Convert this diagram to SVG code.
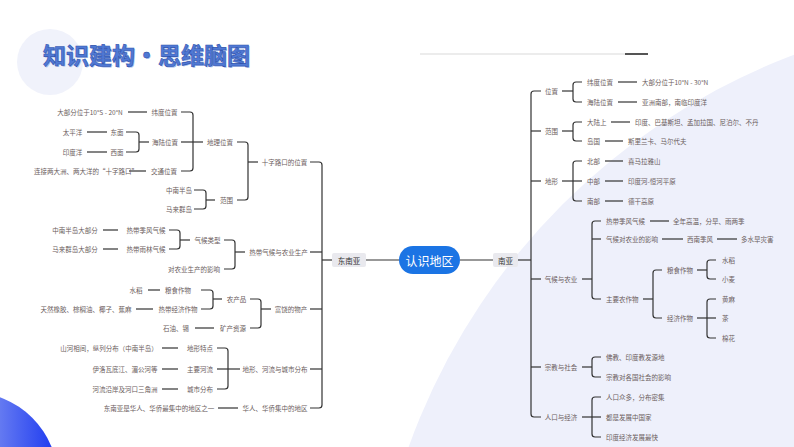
<svg xmlns="http://www.w3.org/2000/svg" width="794" height="447" viewBox="0 0 794 447">
<defs>
<linearGradient id="blueG" x1="0" y1="0" x2="1" y2="0">
<stop offset="0" stop-color="#d4daf7"/>
<stop offset="0.5" stop-color="#8a9cf2"/>
<stop offset="1" stop-color="#1a37f0"/>
</linearGradient>
<style>
.t{font-family:"Noto Sans CJK SC","Noto Sans",sans-serif;font-size:6.5px;fill:#6b5d5d;dominant-baseline:central}
.m{text-anchor:middle}
.ln{stroke:#333;stroke-width:1.2;fill:none}
.box{fill:#e9e9ee}
.bt{font-family:"Noto Sans CJK SC","Noto Sans",sans-serif;font-size:7.5px;fill:#333;dominant-baseline:central;text-anchor:middle}
</style>
</defs>
<rect width="794" height="447" fill="#ffffff"/>
<circle cx="1027" cy="669" r="657" fill="#eef0fb"/>
<circle cx="50" cy="62" r="33" fill="#f0f2fb"/>
<circle cx="-30" cy="480" r="88" fill="url(#blueG)"/>
<line x1="420" y1="54" x2="625" y2="54" stroke="#e6e6e6" stroke-width="1.5"/>
<line x1="625" y1="54" x2="648" y2="54" stroke="#555" stroke-width="2"/>
<g id="title">
<text x="44" y="65" font-family="'Noto Sans CJK SC',sans-serif" font-size="23" font-weight="bold" fill="#a9bcea">知识建构・思维脑图</text>
<text x="43" y="64" font-family="'Noto Sans CJK SC',sans-serif" font-size="23" font-weight="bold" fill="#5079d4" stroke="#2f52ad" stroke-width="0.6">知识建构・思维脑图</text>
</g>

<g id="connectors">
<!-- center -->
<line class="ln" x1="366" y1="260" x2="399" y2="260"/>
<line class="ln" x1="460" y1="260" x2="493" y2="260"/>
<line class="ln" x1="322" y1="260" x2="332" y2="260"/>
<line class="ln" x1="518" y1="260" x2="531" y2="260"/>
<!-- left main bracket -->
<path class="ln" d="M310,162 H319 Q322,162 322,165 V405 Q322,408 319,408 H310"/>
<line class="ln" x1="310" y1="252" x2="322" y2="252"/>
<line class="ln" x1="310" y1="309" x2="322" y2="309"/>
<line class="ln" x1="310" y1="369" x2="322" y2="369"/>
<!-- 十字路口 -->
<path class="ln" d="M237,142 H245 Q248,142 248,145 V197 Q248,200 245,200 H237"/>
<line class="ln" x1="248" y1="162" x2="258" y2="162"/>
<path class="ln" d="M181,112 H190 Q193,112 193,115 V168 Q193,171 190,171 H181"/>
<line class="ln" x1="181" y1="142" x2="203" y2="142"/>
<line class="ln" x1="128" y1="112" x2="147" y2="112"/>
<line class="ln" x1="129" y1="171" x2="146" y2="171"/>
<path class="ln" d="M126,132 H136 Q139,132 139,135 V149 Q139,152 136,152 H126"/>
<line class="ln" x1="139" y1="142" x2="149" y2="142"/>
<line class="ln" x1="87" y1="132" x2="107" y2="132"/>
<line class="ln" x1="87" y1="152" x2="107" y2="152"/>
<path class="ln" d="M194,190 H203 Q206,190 206,193 V206 Q206,209 203,209 H194"/>
<line class="ln" x1="206" y1="200" x2="215" y2="200"/>
<!-- climate -->
<line class="ln" x1="103" y1="230" x2="118" y2="230"/>
<line class="ln" x1="103" y1="249" x2="118" y2="249"/>
<path class="ln" d="M169,230 H177 Q180,230 180,233 V246 Q180,249 177,249 H169"/>
<line class="ln" x1="180" y1="240" x2="190" y2="240"/>
<path class="ln" d="M224,240 H232 Q235,240 235,243 V266 Q235,269 232,269 H224"/>
<line class="ln" x1="235" y1="252" x2="245" y2="252"/>
<!-- products -->
<line class="ln" x1="148" y1="290" x2="160" y2="290"/>
<line class="ln" x1="136" y1="309" x2="153" y2="309"/>
<path class="ln" d="M201,290 H210 Q213,290 213,293 V306 Q213,309 210,309 H201"/>
<line class="ln" x1="213" y1="299" x2="222" y2="299"/>
<line class="ln" x1="195" y1="328" x2="214" y2="328"/>
<path class="ln" d="M250,299 H258 Q261,299 261,302 V325 Q261,328 258,328 H250"/>
<line class="ln" x1="261" y1="309" x2="271" y2="309"/>
<!-- terrain -->
<line class="ln" x1="162" y1="348" x2="178" y2="348"/>
<line class="ln" x1="162" y1="369" x2="178" y2="369"/>
<line class="ln" x1="162" y1="389" x2="178" y2="389"/>
<path class="ln" d="M217,348 H225 Q228,348 228,351 V386 Q228,389 225,389 H217"/>
<line class="ln" x1="217" y1="369" x2="240" y2="369"/>
<line class="ln" x1="218" y1="408" x2="238" y2="408"/>
<!-- right main bracket -->
<path class="ln" d="M541,91 H534 Q531,91 531,94 V414 Q531,417 534,417 H541"/>
<line class="ln" x1="531" y1="131" x2="541" y2="131"/>
<line class="ln" x1="531" y1="181" x2="541" y2="181"/>
<line class="ln" x1="531" y1="279" x2="541" y2="279"/>
<line class="ln" x1="531" y1="367" x2="541" y2="367"/>
<!-- 位置 -->
<line class="ln" x1="562" y1="91" x2="573" y2="91"/>
<path class="ln" d="M582,82 H576 Q573,82 573,85 V99 Q573,102 576,102 H582"/>
<line class="ln" x1="618" y1="82" x2="637" y2="82"/>
<line class="ln" x1="618" y1="102" x2="637" y2="102"/>
<!-- 范围 -->
<line class="ln" x1="562" y1="131" x2="573" y2="131"/>
<path class="ln" d="M582,122 H576 Q573,122 573,125 V138 Q573,141 576,141 H582"/>
<line class="ln" x1="611" y1="122" x2="630" y2="122"/>
<line class="ln" x1="605" y1="141" x2="623" y2="141"/>
<!-- 地形 -->
<line class="ln" x1="562" y1="181" x2="582" y2="181"/>
<path class="ln" d="M582,161 H576 Q573,161 573,164 V198 Q573,201 576,201 H582"/>
<line class="ln" x1="605" y1="161" x2="623" y2="161"/>
<line class="ln" x1="605" y1="181" x2="623" y2="181"/>
<line class="ln" x1="605" y1="201" x2="623" y2="201"/>
<!-- 气候与农业 -->
<line class="ln" x1="582" y1="279" x2="592" y2="279"/>
<path class="ln" d="M601,221 H595 Q592,221 592,224 V296 Q592,299 595,299 H601"/>
<line class="ln" x1="592" y1="239" x2="601" y2="239"/>
<line class="ln" x1="650" y1="221" x2="669" y2="221"/>
<line class="ln" x1="662" y1="239" x2="683" y2="239"/>
<line class="ln" x1="717" y1="239" x2="737" y2="239"/>
<line class="ln" x1="643" y1="299" x2="653" y2="299"/>
<path class="ln" d="M662,270 H656 Q653,270 653,273 V315 Q653,318 656,318 H662"/>
<line class="ln" x1="697" y1="270" x2="707" y2="270"/>
<path class="ln" d="M716,260 H710 Q707,260 707,263 V276 Q707,279 710,279 H716"/>
<line class="ln" x1="697" y1="318" x2="716" y2="318"/>
<path class="ln" d="M716,299 H710 Q707,299 707,302 V335 Q707,338 710,338 H716"/>
<!-- 宗教与社会 -->
<line class="ln" x1="582" y1="367" x2="592" y2="367"/>
<path class="ln" d="M601,357 H595 Q592,357 592,360 V374 Q592,377 595,377 H601"/>
<!-- 人口与经济 -->
<line class="ln" x1="582" y1="417" x2="601" y2="417"/>
<path class="ln" d="M601,397 H595 Q592,397 592,400 V434 Q592,437 595,437 H601"/>
</g>

<g id="center"><rect x="399" y="246" width="61" height="28" rx="14" fill="#1b74e4"/><text x="429.5" y="260" font-family="'Noto Sans CJK SC',sans-serif" font-size="12" fill="#fff" text-anchor="middle" dominant-baseline="central">认识地区</text></g>
<g id="dny"><rect class="box" x="332" y="253" width="34" height="14" rx="2"/><text class="bt" x="349" y="260">东南亚</text></g>
<g id="ny"><rect class="box" x="493" y="253" width="25" height="14" rx="2"/><text class="bt" x="505.5" y="260">南亚</text></g>

<g id="left-nodes">
<g id="l-szlk"><text class="t m" x="284.5" y="162">十字路口的位置</text></g>
<g id="l-dlwz"><text class="t m" x="220" y="142">地理位置</text></g>
<g id="l-wdwz"><text class="t m" x="164.5" y="112">纬度位置</text></g>
<g id="l-wdwz-v"><text class="t m" x="90" y="112">大部分位于10°S - 20°N</text></g>
<g id="l-hlwz"><text class="t m" x="165" y="142">海陆位置</text></g>
<g id="l-dm"><text class="t m" x="117" y="132">东面</text></g>
<g id="l-tpy"><text class="t m" x="72.5" y="132">太平洋</text></g>
<g id="l-xm"><text class="t m" x="117" y="152">西面</text></g>
<g id="l-ydy"><text class="t m" x="72.5" y="152">印度洋</text></g>
<g id="l-jtwz"><text class="t m" x="164" y="171">交通位置</text></g>
<g id="l-jtwz-v"><text class="t m" x="86" y="171">连接两大洲、两大洋的“十字路口”</text></g>
<g id="l-fw"><text class="t m" x="226.5" y="200">范围</text></g>
<g id="l-znbd"><text class="t m" x="179" y="190">中南半岛</text></g>
<g id="l-mlqd"><text class="t m" x="179" y="209">马来群岛</text></g>
<g id="l-rdqh"><text class="t m" x="278.5" y="252">热带气候与农业生产</text></g>
<g id="l-qhlx"><text class="t m" x="207.5" y="240">气候类型</text></g>
<g id="l-rdjf"><text class="t m" x="146" y="230">热带季风气候</text></g>
<g id="l-znbd2"><text class="t m" x="75" y="230">中南半岛大部分</text></g>
<g id="l-rdyl"><text class="t m" x="146" y="249">热带雨林气候</text></g>
<g id="l-mlqd2"><text class="t m" x="75" y="249">马来群岛大部分</text></g>
<g id="l-dnyx"><text class="t m" x="194" y="269">对农业生产的影响</text></g>
<g id="l-frwc"><text class="t m" x="291" y="309">富饶的物产</text></g>
<g id="l-ncp"><text class="t m" x="236.5" y="299">农产品</text></g>
<g id="l-lszw"><text class="t m" x="178" y="290">粮食作物</text></g>
<g id="l-sd"><text class="t m" x="136" y="290">水稻</text></g>
<g id="l-rdjj"><text class="t m" x="178" y="309">热带经济作物</text></g>
<g id="l-trxj"><text class="t m" x="86" y="309">天然橡胶、棕榈油、椰子、蕉麻</text></g>
<g id="l-kczy"><text class="t m" x="233" y="328">矿产资源</text></g>
<g id="l-syx"><text class="t m" x="176" y="328">石油、锡</text></g>
<g id="l-dxhl"><text class="t m" x="275" y="369">地形、河流与城市分布</text></g>
<g id="l-dxtd"><text class="t m" x="200" y="348">地形特点</text></g>
<g id="l-shxj"><text class="t m" x="109" y="348">山河相间，纵列分布（中南半岛）</text></g>
<g id="l-zyhl"><text class="t m" x="200" y="369">主要河流</text></g>
<g id="l-ylwd"><text class="t m" x="125" y="369">伊洛瓦底江、湄公河等</text></g>
<g id="l-csfb"><text class="t m" x="200" y="389">城市分布</text></g>
<g id="l-hlya"><text class="t m" x="125" y="389">河流沿岸及河口三角洲</text></g>
<g id="l-hrhq"><text class="t m" x="275" y="408">华人、华侨集中的地区</text></g>
<g id="l-hrhq-v"><text class="t m" x="159" y="408">东南亚是华人、华侨最集中的地区之一</text></g>
</g>

<g id="right-nodes">
<g id="r-wz"><text class="t m" x="551.5" y="91">位置</text></g>
<g id="r-wdwz"><text class="t" x="587" y="82">纬度位置</text></g>
<g id="r-wdwz-v"><text class="t" x="642" y="82">大部分位于10°N - 30°N</text></g>
<g id="r-hlwz"><text class="t" x="587" y="102">海陆位置</text></g>
<g id="r-hlwz-v"><text class="t" x="642" y="102">亚洲南部，南临印度洋</text></g>
<g id="r-fw"><text class="t m" x="551.5" y="131">范围</text></g>
<g id="r-dls"><text class="t" x="587" y="122">大陆上</text></g>
<g id="r-dls-v"><text class="t" x="635" y="122">印度、巴基斯坦、孟加拉国、尼泊尔、不丹</text></g>
<g id="r-dg"><text class="t" x="587" y="141">岛国</text></g>
<g id="r-dg-v"><text class="t" x="628" y="141">斯里兰卡、马尔代夫</text></g>
<g id="r-dx"><text class="t m" x="551.5" y="181">地形</text></g>
<g id="r-bb"><text class="t" x="587" y="161">北部</text></g>
<g id="r-bb-v"><text class="t" x="628" y="161">喜马拉雅山</text></g>
<g id="r-zb"><text class="t" x="587" y="181">中部</text></g>
<g id="r-zb-v"><text class="t" x="628" y="181">印度河-恒河平原</text></g>
<g id="r-nb"><text class="t" x="587" y="201">南部</text></g>
<g id="r-nb-v"><text class="t" x="628" y="201">德干高原</text></g>
<g id="r-qhny"><text class="t m" x="561" y="279">气候与农业</text></g>
<g id="r-rdjf"><text class="t" x="606" y="221">热带季风气候</text></g>
<g id="r-rdjf-v"><text class="t" x="673" y="221">全年高温，分旱、雨两季</text></g>
<g id="r-qhdny"><text class="t" x="606" y="239">气候对农业的影响</text></g>
<g id="r-xnjf"><text class="t" x="687" y="239">西南季风</text></g>
<g id="r-dsh"><text class="t" x="741" y="239">多水旱灾害</text></g>
<g id="r-zynz"><text class="t" x="606" y="299">主要农作物</text></g>
<g id="r-lszw"><text class="t" x="667" y="270">粮食作物</text></g>
<g id="r-sd"><text class="t" x="722" y="260">水稻</text></g>
<g id="r-xm"><text class="t" x="722" y="279">小麦</text></g>
<g id="r-jjzw"><text class="t" x="667" y="318">经济作物</text></g>
<g id="r-hm"><text class="t" x="722" y="299">黄麻</text></g>
<g id="r-c"><text class="t" x="722" y="318">茶</text></g>
<g id="r-mh"><text class="t" x="722" y="338">棉花</text></g>
<g id="r-zjsh"><text class="t m" x="561" y="367">宗教与社会</text></g>
<g id="r-fj"><text class="t" x="606" y="357">佛教、印度教发源地</text></g>
<g id="r-zjdg"><text class="t" x="606" y="377">宗教对各国社会的影响</text></g>
<g id="r-rkjj"><text class="t m" x="561" y="417">人口与经济</text></g>
<g id="r-rkzd"><text class="t" x="606" y="397">人口众多，分布密集</text></g>
<g id="r-dsfz"><text class="t" x="606" y="417">都是发展中国家</text></g>
<g id="r-ydjj"><text class="t" x="606" y="437">印度经济发展最快</text></g>
</g>
</svg>
